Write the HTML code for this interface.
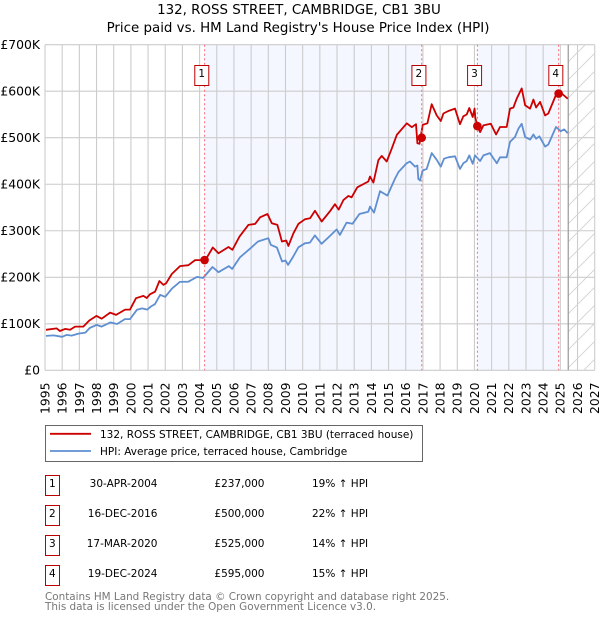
<!DOCTYPE html>
<html>
<head>
<meta charset="utf-8">
<title>132, ROSS STREET, CAMBRIDGE, CB1 3BU</title>
<style>
html,body{margin:0;padding:0;background:#fff;}
svg{display:block;font-family:"DejaVu Sans","Liberation Sans",sans-serif;}
</style>
</head>
<body>
<svg id="chart" width="600" height="620" viewBox="0 0 600 620" xmlns="http://www.w3.org/2000/svg">
  <defs>
    <pattern id="hatch" patternUnits="userSpaceOnUse" width="18" height="18">
      <line x1="0" y1="18" x2="18" y2="0" stroke="#d2d2d2" stroke-width="0.9"/>
      <line x1="-2" y1="2" x2="2" y2="-2" stroke="#d2d2d2" stroke-width="0.9"/>
      <line x1="16" y1="20" x2="20" y2="16" stroke="#d2d2d2" stroke-width="0.9"/>
    </pattern>
    <clipPath id="plot-clip"><rect x="45" y="44.7" width="549.7" height="325.6"/></clipPath>
  </defs>

  <text x="299" y="14" font-size="13.4" text-anchor="middle" fill="#000">132, ROSS STREET, CAMBRIDGE, CB1 3BU</text>
  <text x="298" y="32" font-size="13.4" text-anchor="middle" fill="#000">Price paid vs. HM Land Registry's House Price Index (HPI)</text>

  <g id="bands"></g>
  <g id="grid"></g>
  <g id="forecast"></g>
  <g id="series" clip-path="url(#plot-clip)"></g>
  <g id="sale-lines"></g>
  <g id="markers"></g>
  <g id="sale-labels"></g>
  <g id="y-labels"></g>
  <g id="x-labels"></g>

  <g>
    <rect x="45.5" y="425.5" width="377" height="36" fill="#fff" stroke="#666" stroke-width="1"/>
    <line x1="50" x2="91" y1="433.8" y2="433.8" stroke="#cc0000" stroke-width="1.8"/>
    <text x="100" y="438" font-size="10.5" fill="#000">132, ROSS STREET, CAMBRIDGE, CB1 3BU (terraced house)</text>
    <line x1="50" x2="91" y1="451" y2="451" stroke="#5f8fd0" stroke-width="1.8"/>
    <text x="100" y="455" font-size="10.5" fill="#000">HPI: Average price, terraced house, Cambridge</text>
  </g>

  <g id="sales-table" font-size="10.5" fill="#000">
    <g>
      <rect x="45.5" y="475.5" width="14" height="20" fill="#fff" stroke="#bb0000" stroke-width="1"/>
      <text x="52.3" y="487" text-anchor="middle">1</text>
      <text x="157.5" y="487" text-anchor="end">30-APR-2004</text>
      <text x="264.5" y="487" text-anchor="end">£237,000</text>
      <text x="312" y="487">19% ↑ HPI</text>
    </g>
    <g>
      <rect x="45.5" y="505.5" width="14" height="20" fill="#fff" stroke="#bb0000" stroke-width="1"/>
      <text x="52.3" y="517" text-anchor="middle">2</text>
      <text x="157.5" y="517" text-anchor="end">16-DEC-2016</text>
      <text x="264.5" y="517" text-anchor="end">£500,000</text>
      <text x="312" y="517">22% ↑ HPI</text>
    </g>
    <g>
      <rect x="45.5" y="535.5" width="14" height="20" fill="#fff" stroke="#bb0000" stroke-width="1"/>
      <text x="52.3" y="547" text-anchor="middle">3</text>
      <text x="157.5" y="547" text-anchor="end">17-MAR-2020</text>
      <text x="264.5" y="547" text-anchor="end">£525,000</text>
      <text x="312" y="547">14% ↑ HPI</text>
    </g>
    <g>
      <rect x="45.5" y="565.5" width="14" height="20" fill="#fff" stroke="#bb0000" stroke-width="1"/>
      <text x="52.3" y="577" text-anchor="middle">4</text>
      <text x="157.5" y="577" text-anchor="end">19-DEC-2024</text>
      <text x="264.5" y="577" text-anchor="end">£595,000</text>
      <text x="312" y="577">15% ↑ HPI</text>
    </g>
  </g>

  <text x="45" y="600" font-size="10.4" fill="#777">Contains HM Land Registry data © Crown copyright and database right 2025.</text>
  <text x="45" y="610" font-size="10.4" fill="#777">This data is licensed under the Open Government Licence v3.0.</text>
</svg>

<script>
const yearTicks = [1995,1996,1997,1998,1999,2000,2001,2002,2003,2004,2005,2006,2007,2008,2009,2010,2011,2012,2013,2014,2015,2016,2017,2018,2019,2020,2021,2022,2023,2024,2025,2026,2027];
const valueTicks = [0,100,200,300,400,500,600,700];
const valueTickLabels = ['£0','£100K','£200K','£300K','£400K','£500K','£600K','£700K'];

const saleYears = [2004.29,2016.93,2020.17,2024.9];
const salePrices = [237,500,525,595];
const saleNumbers = ['1','2','3','4'];
const lastDataYear = 2025.46;

const hpiYears = [1995.06,1995.5,1996.0,1996.25,1996.55,1996.95,1997.35,1997.6,1998.0,1998.3,1998.8,1999.2,1999.65,1999.95,2000.35,2000.65,2000.95,2001.2,2001.4,2001.7,2002.0,2002.4,2002.85,2003.35,2003.85,2004.2,2004.75,2005.1,2005.7,2005.9,2006.35,2006.95,2007.4,2008.0,2008.15,2008.5,2008.8,2009.0,2009.15,2009.45,2009.75,2010.13,2010.42,2010.71,2011.1,2011.59,2011.98,2012.17,2012.56,2012.9,2013.3,2013.82,2013.92,2014.15,2014.5,2014.93,2015.37,2015.57,2016.05,2016.25,2016.54,2016.68,2016.73,2016.83,2016.99,2017.22,2017.51,2017.8,2018.04,2018.23,2018.48,2018.87,2019.16,2019.35,2019.55,2019.7,2019.9,2020.03,2020.33,2020.52,2020.9,2021.3,2021.49,2021.88,2022.07,2022.36,2022.56,2022.75,2022.95,2023.24,2023.43,2023.59,2023.78,2024.11,2024.3,2024.75,2025.02,2025.22,2025.43];
const hpiValues = [74,75,72,76,74.5,79,81,91,97.5,94,103,99.5,110,110,130,133,130.5,138,142,162,158,176,190,190.5,200.7,198.5,222,211,224,218,243,262,277,284,269.5,264,234,236,226.5,244.5,264.5,273,274.5,290,272,289,303,291,317.5,315,336,341,352,339,385,375.5,411.5,426,445,449,438,440,411.5,408,429.5,433,467,452.5,438,455,458,460,433,445,450,462,444,462,450,462,467,445,458,458,491,501.5,519.5,530,501.5,496,507,498,503,481,485.5,523,514,518,510];

const paidYears = [1995.06,1995.68,1995.87,1996.17,1996.46,1996.75,1997.23,1997.58,1998.0,1998.3,1998.79,1999.14,1999.66,1999.95,2000.3,2000.73,2000.92,2001.12,2001.41,2001.66,2001.89,2002.05,2002.38,2002.86,2003.35,2003.74,2004.13,2004.32,2004.77,2005.1,2005.68,2005.91,2006.32,2006.84,2007.23,2007.52,2007.95,2008.2,2008.53,2008.79,2009.04,2009.17,2009.46,2009.75,2010.13,2010.43,2010.72,2011.11,2011.59,2011.88,2012.1,2012.37,2012.66,2012.85,2013.18,2013.82,2013.92,2014.12,2014.41,2014.6,2014.89,2015.19,2015.48,2016.06,2016.35,2016.6,2016.68,2016.8,2016.99,2017.26,2017.51,2017.8,2018.04,2018.19,2018.48,2018.87,2019.16,2019.35,2019.55,2019.7,2019.9,2020.01,2020.05,2020.17,2020.33,2020.52,2020.95,2021.26,2021.49,2021.88,2022.07,2022.27,2022.46,2022.75,2022.95,2023.24,2023.43,2023.59,2023.82,2024.11,2024.3,2024.79,2025.08,2025.43];
const paidValues = [87,90,84.5,89,87,94,94,107,117,111,124,119,130.5,130.5,155,160,155.5,163.5,169,192,183.5,187,207,224,226,237,237,236,264,251.5,265,259,287.5,312.5,314.7,329,336,316,312.5,277,279,267.5,294.6,314.7,324.7,327,343,320,342,357,345.5,366,375,372,393.5,406,416.5,403.6,452,461,449,477,506,531,522.6,529,488,487,527.6,531,572,548,536,552,557.5,562.6,529,546,550,564,544.6,562.6,543,524.5,512,526.6,530,507,523,523,562.6,565,584,606,570,562.6,582,565,577,548,552,596,595,584];

const NS = 'http://www.w3.org/2000/svg';
const plotLeft = 45, plotRight = 594.7, plotTop = 44.7, plotBottom = 370.3;
function xScale(year){ return plotLeft + (year - 1995) * (plotRight - plotLeft) / 32; }
function yScale(v){ return plotBottom - v * (plotBottom - plotTop) / 700; }
function mk(tag, parentId, attrs, text){
  const el = document.createElementNS(NS, tag);
  for (const k in attrs) el.setAttribute(k, attrs[k]);
  if (text !== undefined) el.textContent = text;
  document.getElementById(parentId).appendChild(el);
  return el;
}
function pathFrom(xs, vs){
  return xs.map((t, i) => (i ? 'L' : 'M') + xScale(t).toFixed(1) + ' ' + yScale(vs[i]).toFixed(1)).join('');
}

// shaded bands between alternating sale dates
for (let i = 0; i + 1 < saleYears.length; i += 2) {
  const band = mk('rect', 'bands', {x: xScale(saleYears[i]), y: plotTop, width: xScale(saleYears[i+1]) - xScale(saleYears[i]), height: plotBottom - plotTop, fill: '#f4f7ff'});
  
  
}

// gridlines
yearTicks.forEach(t => {
  const g = mk('line', 'grid', {x1: xScale(t), x2: xScale(t), y1: plotTop, y2: plotBottom, stroke: '#cccccc', 'stroke-width': 1.1});
  
  
});
valueTicks.forEach(v => {
  const g = mk('line', 'grid', {x1: plotLeft, x2: plotRight, y1: yScale(v), y2: yScale(v), stroke: '#cccccc', 'stroke-width': 1.1});
  
  
});

// forecast hatch and last-data divider
const hatchRect = mk('rect', 'forecast', {x: xScale(lastDataYear), y: plotTop, width: plotRight - xScale(lastDataYear), height: plotBottom - plotTop, fill: 'url(#hatch)'});


const divider = mk('line', 'forecast', {x1: xScale(lastDataYear), x2: xScale(lastDataYear), y1: plotTop, y2: plotBottom, stroke: '#999999', 'stroke-width': 1.2});



// series
const hpiLine = mk('path', 'series', {d: pathFrom(hpiYears, hpiValues), fill: 'none', stroke: '#5f8fd0', 'stroke-width': 1.8, 'stroke-linejoin': 'round'});


const paidLine = mk('path', 'series', {d: pathFrom(paidYears, paidValues), fill: 'none', stroke: '#cc0000', 'stroke-width': 1.8, 'stroke-linejoin': 'round'});



// sale markers, reference lines and numbered labels
saleYears.forEach((t, i) => {
  const sx = xScale(t);
  const rl = mk('line', 'sale-lines', {x1: sx, x2: sx, y1: plotTop, y2: plotBottom, stroke: '#ff6b78', 'stroke-width': 1, 'stroke-dasharray': '2 2.5'});
  
  

  const m = mk('circle', 'markers', {cx: sx, cy: yScale(salePrices[i]), r: 4.3, fill: '#cc0000'});
  
  

  const b = mk('rect', 'sale-labels', {x: sx - 9.8, y: 65.5, width: 14, height: 20, fill: '#fff', stroke: '#bb0000', 'stroke-width': 1});
  
  

  const n = mk('text', 'sale-labels', {x: sx - 2.9, y: 77, 'font-size': 10.5, 'text-anchor': 'middle', fill: '#000'}, saleNumbers[i]);
  
  
});

// tick labels
valueTicks.forEach((v, i) => {
  const l = mk('text', 'y-labels', {x: 40, y: yScale(v) + 4.4, 'font-size': 12.4, 'text-anchor': 'end', fill: '#000'}, valueTickLabels[i]);
  
  
});
yearTicks.forEach(t => {
  const tx = xScale(t) + 4.4;
  const l = mk('text', 'x-labels', {x: tx, y: 382.5, 'font-size': 12.4, 'text-anchor': 'end', fill: '#000', transform: 'rotate(-90 ' + tx + ' 382.5)'}, String(t));
  
  
});
</script>
</body>
</html>
